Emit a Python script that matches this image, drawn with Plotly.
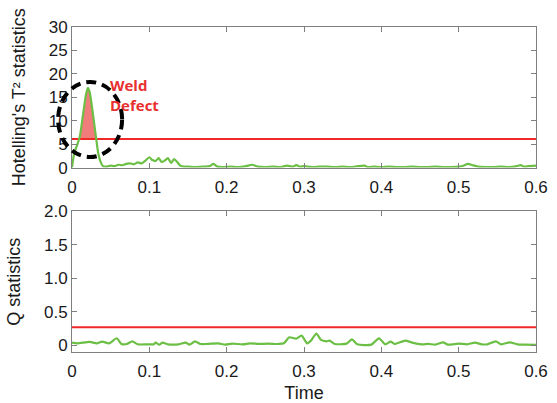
import numpy as np
import plotly.graph_objects as go
from plotly.subplots import make_subplots

# ---- data ----
t2_time = [0, 0.003, 0.006, 0.010, 0.014, 0.018, 0.0205, 0.023, 0.027, 0.031, 0.034, 0.037,
           0.040, 0.045, 0.050, 0.055, 0.060, 0.065, 0.070, 0.075, 0.080, 0.085, 0.090, 0.095,
           0.100, 0.104, 0.108, 0.112, 0.116, 0.120, 0.124, 0.128, 0.132, 0.136, 0.140, 0.145,
           0.150, 0.160, 0.170, 0.178, 0.183, 0.188, 0.195, 0.205, 0.215, 0.225, 0.233, 0.240,
           0.250, 0.260, 0.270, 0.278, 0.285, 0.290, 0.295, 0.300, 0.310, 0.320, 0.330, 0.340,
           0.350, 0.360, 0.370, 0.378, 0.383, 0.390, 0.400, 0.410, 0.420, 0.430, 0.440, 0.450,
           0.460, 0.470, 0.480, 0.490, 0.500, 0.506, 0.512, 0.518, 0.525, 0.535, 0.545, 0.555,
           0.565, 0.575, 0.580, 0.585, 0.590, 0.600]
t2_values = [0, 3.2, 4.5, 6.5, 11, 15.5, 17, 16, 11.5, 6.5, 3, 1.2,
             0.3, 0.2, 0.4, 0.3, 0.6, 0.5, 0.8, 0.9, 0.7, 1.1, 0.9, 1.5,
             2.2, 1.6, 1.4, 2.0, 1.2, 1.5, 2.0, 1.0, 1.8, 1.2, 0.4, 0.2,
             0.2, 0.1, 0.2, 0.3, 0.8, 0.2, 0.1, 0.2, 0.1, 0.3, 0.6, 0.2,
             0.1, 0.2, 0.1, 0.4, 0.2, 0.5, 0.2, 0.3, 0.1, 0.2, 0.2, 0.1,
             0.2, 0.1, 0.3, 0.4, 0.1, 0.2, 0.1, 0.2, 0.1, 0.1, 0.2, 0.1,
             0.1, 0.2, 0.1, 0.1, 0.2, 0.4, 0.8, 0.5, 0.2, 0.1, 0.1, 0.2,
             0.1, 0.3, 0.5, 0.2, 0.3, 0.4]
t2_limit = 6.1

q_time = [0, 0.007, 0.023, 0.032, 0.039, 0.048, 0.058, 0.064, 0.071, 0.078, 0.085, 0.097,
          0.106, 0.108, 0.113, 0.117, 0.124, 0.138, 0.147, 0.152, 0.159, 0.166, 0.175, 0.189,
          0.198, 0.207, 0.221, 0.230, 0.242, 0.253, 0.267, 0.274, 0.281, 0.290, 0.297, 0.304,
          0.309, 0.316, 0.322, 0.329, 0.333, 0.340, 0.355, 0.362, 0.369, 0.387, 0.397, 0.405,
          0.412, 0.417, 0.431, 0.440, 0.452, 0.461, 0.470, 0.480, 0.486, 0.500, 0.511, 0.521,
          0.530, 0.537, 0.548, 0.555, 0.566, 0.576, 0.585, 0.600]
q_values = [0.04, 0.03, 0.05, 0.03, 0.055, 0.03, 0.105, 0.02, 0.02, 0.06, 0.015, 0.015,
            0.015, 0.04, 0.01, 0.04, 0.015, 0.015, 0.04, 0.01, 0.06, 0.02, 0.02, 0.03,
            0.01, 0.025, 0.015, 0.03, 0.02, 0.025, 0.02, 0.03, 0.12, 0.10, 0.145, 0.03,
            0.07, 0.175, 0.08, 0.06, 0.07, 0.02, 0.025, 0.09, 0.015, 0.01, 0.105, 0.015,
            0.055, 0.02, 0.07, 0.04, 0.015, 0.02, 0.01, 0.045, 0.01, 0.025, 0.015, 0.04,
            0.015, 0.015, 0.06, 0.015, 0.045, 0.015, 0.01, 0.005]
q_limit = 0.27

x_ticks = [0, 0.1, 0.2, 0.3, 0.4, 0.5, 0.6]
t2_ticks = [0, 5, 10, 15, 20, 25, 30]
q_ticks = [0, 0.5, 1.0, 1.5, 2.0]
q_tick_labels = ["0", "0.5", "1.0", "1.5", "2.0"]

GREEN = "#6cbf45"
RED = "#f02828"
FONT = "Liberation Sans, Arial, sans-serif"
TITLE_FONT = dict(family=FONT, size=18, color="#1a1a1a")

fig = make_subplots(rows=2, cols=1, vertical_spacing=0.135)

# fill region where T2 exceeds limit
tx = np.array(t2_time)
ty = np.array(t2_values)
above = np.where(ty > t2_limit)[0]
i0, i1 = above[0], above[-1]
xl = np.interp(t2_limit, [ty[i0 - 1], ty[i0]], [tx[i0 - 1], tx[i0]])
xr = np.interp(t2_limit, [ty[i1 + 1], ty[i1]], [tx[i1 + 1], tx[i1]])
fx = [xl] + list(tx[i0:i1 + 1]) + [xr]
fy = [t2_limit] + list(ty[i0:i1 + 1]) + [t2_limit]
fig.add_trace(go.Scatter(x=fx, y=fy, fill="toself", fillcolor="rgba(240,110,110,0.9)",
                         line=dict(width=0), mode="lines", showlegend=False), row=1, col=1)

fig.add_trace(go.Scatter(x=[0, 0.6], y=[t2_limit, t2_limit], mode="lines",
                         line=dict(color=RED, width=2), showlegend=False), row=1, col=1)
fig.add_trace(go.Scatter(x=t2_time, y=t2_values, mode="lines",
                         line=dict(color=GREEN, width=2.2, shape="spline", smoothing=0.6),
                         showlegend=False), row=1, col=1)

fig.add_trace(go.Scatter(x=[0, 0.6], y=[q_limit, q_limit], mode="lines",
                         line=dict(color=RED, width=2), showlegend=False), row=2, col=1)
fig.add_trace(go.Scatter(x=q_time, y=q_values, mode="lines",
                         line=dict(color=GREEN, width=2.2, shape="spline", smoothing=0.6),
                         showlegend=False), row=2, col=1)

axis_common = dict(showgrid=False, zeroline=False, showline=True, linecolor="#7f7f7f",
                   linewidth=1, mirror="allticks", ticks="inside", ticklen=5, automargin=False,
                   tickcolor="#7f7f7f", tickfont=dict(family=FONT, size=17, color="#1a1a1a"))

fig.update_xaxes(range=[0, 0.6], tickvals=x_ticks, ticklabelstandoff=4, **axis_common)
fig.update_xaxes(ticktext=[f"{v:g}" for v in x_ticks], row=1, col=1)
fig.update_xaxes(ticktext=[f"{v:g}" for v in x_ticks], row=2, col=1,
                 title=dict(text="Time", font=TITLE_FONT, standoff=15))
fig.update_yaxes(range=[0, 30], tickvals=t2_ticks, row=1, col=1,
                 title=dict(text="Hotelling's T² statistics", font=TITLE_FONT, standoff=18),
                 **axis_common)
fig.update_yaxes(range=[-0.1, 2.0], tickvals=q_ticks, ticktext=q_tick_labels, row=2, col=1,
                 title=dict(text="Q statistics", font=TITLE_FONT, standoff=18),
                 **axis_common)

# dashed circle highlighting the defect
fig.add_shape(type="circle", xref="paper", yref="paper",
              x0=-0.030, x1=0.108, y0=0.60, y1=0.831,
              line=dict(color="black", width=4, dash="10px,6px"))

fig.add_annotation(xref="paper", yref="paper", x=0.0776, y=0.792,
                   text="<b>Weld<br>Defect</b>", showarrow=False, xanchor="left",
                   yanchor="middle", align="left",
                   font=dict(family="Open Sans, sans-serif", size=15, color="#e83030"))

fig.update_layout(width=557, height=403, margin=dict(l=72, r=21, t=27, b=51),
                  plot_bgcolor="white", paper_bgcolor="white")

fig.write_html("out.html", config={"displayModeBar": False},
               post_script="document.body.style.margin='0';document.body.style.padding='0';")
